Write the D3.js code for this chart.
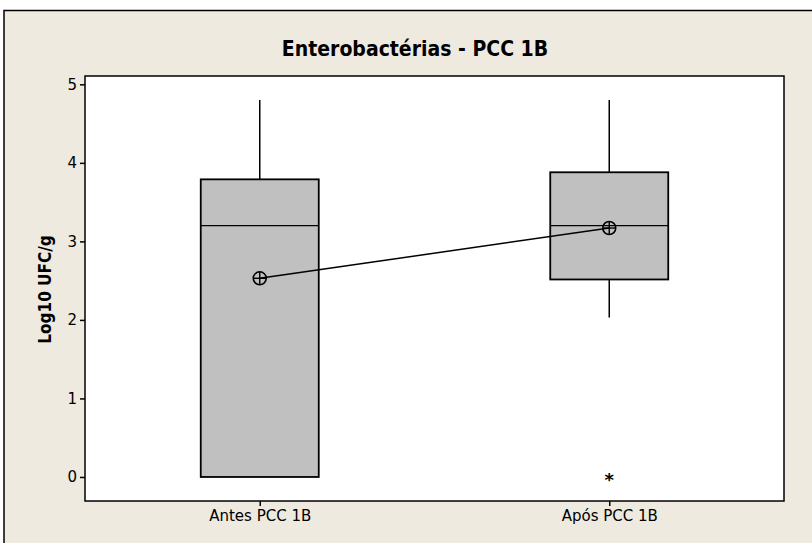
<!DOCTYPE html>
<html>
<head>
<meta charset="utf-8">
<script src="https://cdn.jsdelivr.net/npm/d3@7/dist/d3.min.js"></script>
<style>
  body { margin: 0; background: #fff; }
  svg text { font-family: Tahoma, "DejaVu Sans", sans-serif; }
</style>
</head>
<body>
<svg id="chart" width="812" height="543"></svg>
<script>
// data
const groups = ['Antes PCC 1B', 'Após PCC 1B'];
const whiskerLow = [0, 2.03];
const q1 = [0, 2.515];
const median = [3.2, 3.2];
const q3 = [3.79, 3.88];
const whiskerHigh = [4.8, 4.8];
const means = [2.53, 3.17];
const outliers = [[], [0]];
const yTicks = [0, 1, 2, 3, 4, 5];

const svg = d3.select('#chart');
const W = 812, H = 543;
const plot = {left: 85, top: 76, right: 784, bottom: 501};
const fontStack = 'Tahoma, "DejaVu Sans", sans-serif';

// background frame
svg.append('rect').attr('width', W).attr('height', H).attr('fill', '#fff');
svg.append('rect')
    .attr('x', 4).attr('y', 10.5).attr('width', W + 10).attr('height', H + 10)
    .attr('fill', '#EEEAE0').attr('stroke', '#000').attr('stroke-width', 1.5);

const y = d3.scaleLinear().domain([-0.306, 5.106]).range([plot.bottom, plot.top]);
const x = d3.scalePoint().domain(groups).range([plot.left, plot.right]).padding(0.5);

svg.append('rect')
    .attr('x', plot.left).attr('y', plot.top)
    .attr('width', plot.right - plot.left).attr('height', plot.bottom - plot.top)
    .attr('fill', '#fff');

// title
svg.append('text')
    .attr('x', 415).attr('y', 56)
    .attr('text-anchor', 'middle')
    .attr('font-size', 21).attr('font-weight', 'bold')
    .attr('fill', '#000')
    .style('font-family', '"DejaVu Sans Condensed", "DejaVu Sans", sans-serif')
    .text('Enterobactérias - PCC 1B');

// axes
const yAxis = d3.axisLeft(y).tickValues(yTicks).tickFormat(d3.format('d')).tickSize(5).tickPadding(3);
const gy = svg.append('g').attr('transform', `translate(${plot.left},0)`).call(yAxis);
gy.select('.domain').remove();
gy.selectAll('text').attr('font-size', 15).attr('fill', '#000').style('font-family', fontStack);
gy.selectAll('line').attr('stroke', '#000').attr('stroke-width', 1.5);

const xAxis = d3.axisBottom(x).tickSize(5).tickPadding(4);
const gx = svg.append('g').attr('transform', `translate(0,${plot.bottom})`).call(xAxis);
gx.select('.domain').remove();
gx.selectAll('text').attr('font-size', 15).attr('fill', '#000').style('font-family', fontStack);
gx.selectAll('line').attr('stroke', '#000').attr('stroke-width', 1.5);

svg.append('text')
    .attr('transform', `translate(51,${(plot.top + plot.bottom) / 2 + 1}) rotate(-90)`)
    .attr('text-anchor', 'middle')
    .attr('font-size', 17).attr('font-weight', 'bold').attr('fill', '#000')
    .style('font-family', '"DejaVu Sans Condensed", "DejaVu Sans", sans-serif')
    .text('Log10 UFC/g');

// boxes
const boxW = 118;
const boxes = svg.append('g');
groups.forEach((g, i) => {
    const cx = x(g);
    boxes.append('line')
        .attr('x1', cx).attr('x2', cx).attr('y1', y(q3[i])).attr('y2', y(whiskerHigh[i]))
        .attr('stroke', '#000').attr('stroke-width', 1.5);
    if (whiskerLow[i] < q1[i]) {
        boxes.append('line')
            .attr('x1', cx).attr('x2', cx).attr('y1', y(q1[i])).attr('y2', y(whiskerLow[i]))
            .attr('stroke', '#000').attr('stroke-width', 1.5);
    }
    boxes.append('rect')
        .attr('x', cx - boxW / 2).attr('y', y(q3[i]))
        .attr('width', boxW).attr('height', y(q1[i]) - y(q3[i]))
        .attr('fill', '#C0C0C0').attr('stroke', '#000').attr('stroke-width', 1.8);
    boxes.append('line')
        .attr('x1', cx - boxW / 2).attr('x2', cx + boxW / 2)
        .attr('y1', y(median[i])).attr('y2', y(median[i]))
        .attr('stroke', '#000').attr('stroke-width', 1.3);
    outliers[i].forEach(v => {
        boxes.append('text')
            .attr('x', cx).attr('y', y(v) + 9)
            .attr('text-anchor', 'middle')
            .attr('font-size', 18).attr('font-weight', 'bold')
            .style('font-family', '"DejaVu Sans", sans-serif')
            .text('*');
    });
});

// mean connect line + symbols
const line = d3.line().x((d, i) => x(groups[i])).y(d => y(d));
svg.append('path').datum(means)
    .attr('d', line).attr('fill', 'none').attr('stroke', '#000').attr('stroke-width', 1.5);

const r = 6.5;
const sym = svg.append('g').selectAll('g').data(means).join('g')
    .attr('transform', (d, i) => `translate(${x(groups[i])},${y(d)})`);
sym.append('circle').attr('r', r).attr('fill', 'none').attr('stroke', '#000').attr('stroke-width', 1.6);
sym.append('line').attr('x1', -r).attr('x2', r).attr('stroke', '#000').attr('stroke-width', 1.4);
sym.append('line').attr('y1', -r).attr('y2', r).attr('stroke', '#000').attr('stroke-width', 1.4);

// plot border
svg.append('rect')
    .attr('x', plot.left).attr('y', plot.top)
    .attr('width', plot.right - plot.left).attr('height', plot.bottom - plot.top)
    .attr('fill', 'none').attr('stroke', '#000').attr('stroke-width', 1.5);
</script>
</body>
</html>
